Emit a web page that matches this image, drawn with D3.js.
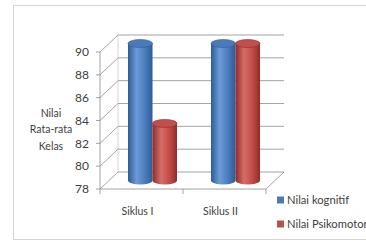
<!DOCTYPE html>
<html><head><meta charset="utf-8">
<script src="https://cdn.jsdelivr.net/npm/d3@7"></script>
<style>body{margin:0;background:#fff}svg{display:block}</style>
</head><body>
<svg id="c" width="366" height="244"></svg>
<script>
const categories = ["Siklus I", "Siklus II"];
const seriesNames = ["Nilai kognitif", "Nilai Psikomotor"];
const kognitif = [90, 90];
const psikomotor = [83, 90];
const yTicks = [78, 80, 82, 84, 86, 88, 90];
const yTitle = ["Nilai", "Rata-rata", "Kelas"];

const svg = d3.select("#c");
const font = "Lato, 'Open Sans', sans-serif";
const txt = "#404040";

// frame
svg.append("rect").attr("x", 13.5).attr("y", 5.5).attr("width", 400).attr("height", 234)
  .attr("fill", "#fff").attr("stroke", "#d4d4d4").attr("stroke-width", 1);

const y = d3.scaleLinear().domain([78, 90]).range([189, 52]);
const x0 = d3.scaleBand().domain(categories).range([100, 266]);
const x1 = d3.scaleBand().domain(seriesNames).range([-24.5, 24.5]);
const dx = 18, dy = -17;
const grid = "#8c8c8c";

const defs = svg.append("defs");
function grad(id, dark, mid, light) {
  const g = defs.append("linearGradient").attr("id", id).attr("x1", 0).attr("x2", 1).attr("y1", 0).attr("y2", 0);
  g.append("stop").attr("offset", "0%").attr("stop-color", dark);
  g.append("stop").attr("offset", "35%").attr("stop-color", light);
  g.append("stop").attr("offset", "70%").attr("stop-color", mid);
  g.append("stop").attr("offset", "100%").attr("stop-color", dark);
}
grad("gb", "#2d5b96", "#4a7cbc", "#6d9bd6");
grad("gr", "#8f2c29", "#bf4b47", "#d66d68");

const gg = svg.append("g");
yTicks.forEach(v => {
  gg.append("line").attr("x1", 100).attr("y1", y(v)).attr("x2", 100 + dx).attr("y2", y(v) + dy)
    .attr("stroke", grid).attr("stroke-width", 0.8);
  gg.append("line").attr("x1", 100 + dx).attr("y1", y(v) + dy).attr("x2", 266 + dx).attr("y2", y(v) + dy)
    .attr("stroke", grid).attr("stroke-width", 0.8);
  gg.append("line").attr("x1", 96).attr("y1", y(v)).attr("x2", 100).attr("y2", y(v))
    .attr("stroke", grid).attr("stroke-width", 0.8);
  gg.append("text").attr("x", 89).attr("y", y(v)).attr("dy", "0.36em").attr("text-anchor", "end")
    .attr("font-family", font).attr("font-size", 12).attr("fill", txt).text(v);
});
gg.append("line").attr("x1", 100).attr("y1", y(90)).attr("x2", 100).attr("y2", y(78)).attr("stroke", grid).attr("stroke-width", 0.8);
gg.append("line").attr("x1", 100 + dx).attr("y1", y(90) + dy).attr("x2", 100 + dx).attr("y2", y(78) + dy).attr("stroke", "#bbb").attr("stroke-width", 0.6);
gg.append("line").attr("x1", 100).attr("y1", y(78)).attr("x2", 266).attr("y2", y(78)).attr("stroke", grid).attr("stroke-width", 0.8);
gg.append("line").attr("x1", 266).attr("y1", y(78)).attr("x2", 266 + dx).attr("y2", y(78) + dy).attr("stroke", grid).attr("stroke-width", 0.8);
[100, 183, 266].forEach(xx => {
  gg.append("line").attr("x1", xx).attr("y1", y(78)).attr("x2", xx).attr("y2", y(78) + 5).attr("stroke", grid).attr("stroke-width", 0.8);
});

const ox = 11, oy = -8.5, ry = 4;
const data = [];
categories.forEach((c, i) => {
  data.push({c, s: seriesNames[0], v: kognitif[i], f: "url(#gb)", top: "#4a7ab8", rim: "#2f5c98"});
  data.push({c, s: seriesNames[1], v: psikomotor[i], f: "url(#gr)", top: "#c0504d", rim: "#8f2c29"});
});
const bg = svg.append("g");
data.forEach(d => {
  const cx = x0(d.c) + x0.bandwidth() / 2 + x1(d.s) + x1.bandwidth() / 2 + ox;
  const rx = x1.bandwidth() / 2;
  const yt = y(d.v) + oy, yb = y(78) + oy;
  bg.append("path").attr("d",
    `M${cx - rx},${yt} L${cx - rx},${yb} A${rx},${ry} 0 0 0 ${cx + rx},${yb} L${cx + rx},${yt} Z`)
    .attr("fill", d.f);
  bg.append("ellipse").attr("cx", cx).attr("cy", yt).attr("rx", rx).attr("ry", ry)
    .attr("fill", d.top).attr("stroke", d.rim).attr("stroke-width", 0.6);
});

categories.forEach(c => {
  svg.append("text").attr("x", x0(c) + x0.bandwidth() / 2 - 4).attr("y", 211).attr("dy", "0.35em")
    .attr("text-anchor", "middle").attr("font-family", font).attr("font-size", 10.5).attr("fill", txt).text(c);
});

yTitle.forEach((t, i) => {
  svg.append("text").attr("x", 51).attr("y", 113 + i * 16.5).attr("dy", "0.35em").attr("text-anchor", "middle")
    .attr("font-family", font).attr("font-size", 10.5).attr("fill", txt).text(t);
});

const cols = ["#4a7cbc", "#c0504d"];
seriesNames.forEach((s, i) => {
  const ly = 200 + i * 24;
  svg.append("rect").attr("x", 277).attr("y", ly - 3.5).attr("width", 7).attr("height", 7).attr("fill", cols[i]);
  svg.append("text").attr("x", 287).attr("y", ly).attr("dy", "0.35em").attr("font-family", font)
    .attr("font-size", 11.2).attr("fill", txt).text(s);
});
</script>
</body></html>
